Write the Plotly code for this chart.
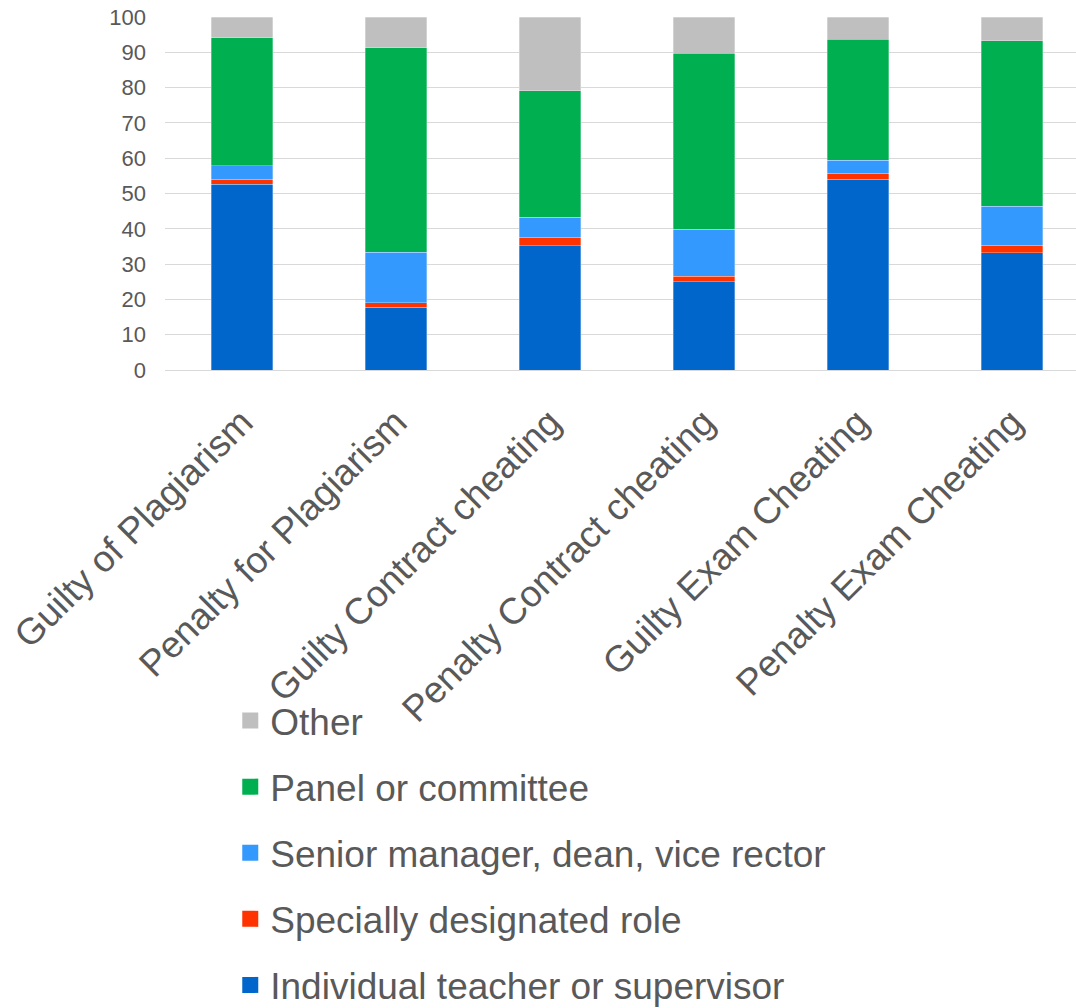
import plotly.graph_objects as go

categories = [
    "Guilty of Plagiarism",
    "Penalty for Plagiarism",
    "Guilty Contract cheating",
    "Penalty Contract cheating",
    "Guilty Exam Cheating",
    "Penalty Exam Cheating",
]

# Share of responses (%) by who decides, stacked bottom to top
individual_teacher = [52.6, 17.8, 35.2, 25.0, 54.1, 33.2]
specially_designated = [1.5, 1.3, 2.4, 1.5, 1.6, 2.1]
senior_manager = [3.7, 14.2, 5.7, 13.4, 3.7, 11.1]
panel_committee = [36.3, 58.0, 35.8, 49.8, 34.3, 46.9]
other = [5.9, 8.7, 20.9, 10.3, 6.3, 6.7]

y_ticks = [0, 10, 20, 30, 40, 50, 60, 70, 80, 90, 100]

series = [
    ("Individual teacher or supervisor", individual_teacher, "#0066CC"),
    ("Specially designated role", specially_designated, "#FF3300"),
    ("Senior manager, dean, vice rector", senior_manager, "#3399FF"),
    ("Panel or committee", panel_committee, "#00B050"),
    ("Other", other, "#BFBFBF"),
]

TEXT = "#595959"
FONT = "Liberation Sans, Arial, sans-serif"

fig = go.Figure()
for name, values, color in series:
    fig.add_trace(go.Bar(
        x=categories,
        y=values,
        name=name,
        marker=dict(color=color, line=dict(color="rgba(255,255,255,0.5)", width=0.6)),
        showlegend=False,
    ))

# legend swatches as square markers, top entry = top of the stack
for name, values, color in reversed(series):
    fig.add_trace(go.Scatter(
        x=[None], y=[None], mode="markers", name=name, legendgroup=name,
        marker=dict(symbol="square", size=16, color=color),
        showlegend=True,
    ))

fig.update_layout(
    barmode="stack",
    bargap=0.6,
    width=1076,
    height=1008,
    margin=dict(l=165, r=0, t=17, b=638, autoexpand=False),
    paper_bgcolor="white",
    plot_bgcolor="white",
    font=dict(family=FONT, color=TEXT),
    xaxis=dict(
        type="category",
        range=[-0.5, 5.416],
        tickangle=-45,
        tickfont=dict(size=37, color=TEXT),
        showgrid=False,
        ticks="",
        showline=False,
        ticklabelstandoff=22,
        automargin=False,
    ),
    yaxis=dict(
        range=[0, 100],
        tickvals=y_ticks,
        tickfont=dict(size=22, color=TEXT),
        showgrid=True,
        gridcolor="#D9D9D9",
        gridwidth=1,
        zeroline=True,
        zerolinecolor="#D9D9D9",
        zerolinewidth=1,
        ticks="",
        ticklabelstandoff=18,
        automargin=False,
    ),
    legend=dict(
        traceorder="grouped",
        tracegroupgap=15,
        font=dict(size=37, color=TEXT),
        itemsizing="trace",
        xref="container",
        yref="container",
        x=0.214,
        y=0.3155,
        xanchor="left",
        yanchor="top",
        bgcolor="rgba(0,0,0,0)",
    ),
)

fig.write_html("out.html")
